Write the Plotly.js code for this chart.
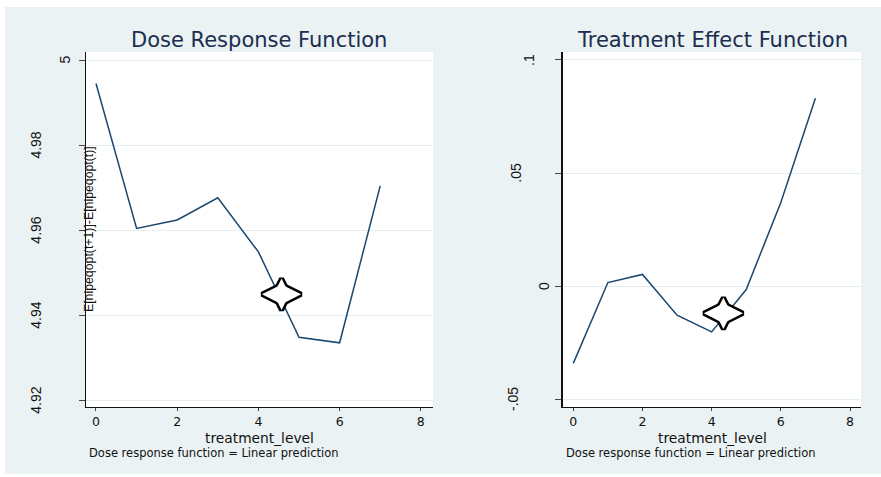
<!DOCTYPE html>
<html>
<head>
<meta charset="utf-8">
<script src="https://cdn.plot.ly/plotly-3.0.1.min.js"></script>
<style>
  html, body { margin: 0; padding: 0; background: #ffffff; width: 881px; height: 477px; overflow: hidden; }
  #chart { position: absolute; left: 5px; top: 7px; width: 876px; height: 467px; }
</style>
</head>
<body>
<div id="chart"></div>
<script>
// ---- data ----
const treatmentLevel = [0, 1, 2, 3, 4, 5, 6, 7];
const doseResponse = [4.9945, 4.9604, 4.9624, 4.9676, 4.9549, 4.9348, 4.9335, 4.9704];
const treatmentEffect = [-0.0341, 0.0016, 0.0052, -0.0128, -0.0202, -0.0015, 0.037, 0.0831];
const starDoseX = [4.57];
const starDoseY = [4.9449];
const starEffectX = [4.34];
const starEffectY = [-0.012];
const xTicks = [0, 2, 4, 6, 8];
const doseTicks = [4.92, 4.94, 4.96, 4.98, 5];
const doseTickLabels = ["4.92", "4.94", "4.96", "4.98", "5"];
const effectTicks = [-0.05, 0, 0.05, 0.1];
const effectTickLabels = ["-.05", "0", ".05", ".1"];
const titles = ["Dose Response Function", "Treatment Effect Function"];
const xTitle = "treatment_level";
const yTitleDose = "E[nipeqopt(t+1)]-E[nipeqopt(t)]";
const noteText = "Dose response function = Linear prediction";

// ---- layout helpers (page pixel -> paper fraction) ----
const W = 876, H = 467, OX = 5, OY = 7;
const px = x => (x - OX) / W;
const py = y => 1 - (y - OY) / H;

// label shifts (style): distance of rotated tick label centre from axis
const doseTickShift = [49.5, 49.5, 49.5, 49.5, 20.5];
const effectTickShift = [49, 19, 47, 33.7];

const lineColor = '#1a476f';
const titleColor = '#1c2d4f';
const bg = '#eaf2f3';
const wide = 'DejaVu Sans, sans-serif';
const arial = 'Liberation Sans, Arial, sans-serif';

// four-point star built from two crossed diamonds (outlined, then interiors filled)
function starTraces(xs, ys, xa, ya) {
  const layer = (symbol, size, lw) => ({
    x: xs, y: ys, type: 'scatter', mode: 'markers', xaxis: xa, yaxis: ya, hoverinfo: 'skip',
    marker: { symbol: symbol, size: size, color: 'white', line: { color: 'black', width: lw } }
  });
  return [
    layer('diamond-wide', 28, 5),
    layer('diamond-tall', 22.5, 5),
    layer('diamond-wide', 28, 0),
    layer('diamond-tall', 22.5, 0)
  ];
}

const traces = [
  { x: treatmentLevel, y: doseResponse, type: 'scatter', mode: 'lines',
    line: { color: lineColor, width: 1.5 }, xaxis: 'x', yaxis: 'y' },
  ...starTraces(starDoseX, starDoseY, 'x', 'y'),
  { x: treatmentLevel, y: treatmentEffect, type: 'scatter', mode: 'lines',
    line: { color: lineColor, width: 1.5 }, xaxis: 'x2', yaxis: 'y2' },
  ...starTraces(starEffectX, starEffectY, 'x2', 'y2')
];

function xAxis(domain, range, anchor) {
  return {
    domain: domain, range: range, anchor: anchor,
    tickmode: 'array', tickvals: xTicks, ticktext: xTicks.map(String),
    ticks: 'outside', ticklen: 3, tickcolor: '#444', tickwidth: 1,
    tickfont: { family: wide, size: 12.5, color: '#111' },
    showgrid: false, zeroline: false,
    showline: true, linecolor: '#111', linewidth: 1.3
  };
}
function yAxis(domain, range, anchor, ticks) {
  return {
    domain: domain, range: range, anchor: anchor,
    tickmode: 'array', tickvals: ticks, showticklabels: false,
    ticks: 'outside', ticklen: 6, tickcolor: '#444', tickwidth: 1,
    showgrid: true, gridcolor: '#e4eef0', gridwidth: 1, zeroline: false,
    showline: true, linecolor: '#111', linewidth: 1.3
  };
}

const yDom = [py(407), py(52)];
const leftDom = [px(86), px(433)];
const rightDom = [px(562.7), px(861)];

const ann = (o) => Object.assign({ xref: 'paper', yref: 'paper', xanchor: 'center', yanchor: 'middle',
  showarrow: false, borderpad: 0 }, o);

const annotations = [];
// titles
annotations.push(ann({ text: titles[0], x: px(259.5), y: py(40.5), font: { family: wide, size: 21, color: titleColor } }));
annotations.push(ann({ text: titles[1], x: px(712.5), y: py(40.5), font: { family: wide, size: 21, color: titleColor } }));
// x titles
annotations.push(ann({ text: xTitle, x: px(259.5), y: py(437.5), font: { family: wide, size: 13.8, color: '#111' } }));
annotations.push(ann({ text: xTitle, x: px(712), y: py(437.5), font: { family: wide, size: 13.8, color: '#111' } }));
// notes
annotations.push(ann({ text: noteText, x: px(88), y: py(453), xanchor: 'left', font: { family: wide, size: 11.5, color: '#111' } }));
annotations.push(ann({ text: noteText, x: px(565), y: py(453), xanchor: 'left', font: { family: wide, size: 11.5, color: '#111' } }));
// y title (left)
annotations.push(ann({ text: yTitleDose, x: px(88.5), y: py(229.5), textangle: -90,
  font: { family: arial, size: 12.3, color: '#111' } }));
// y tick labels (rotated, Stata style)
doseTicks.forEach((v, i) => annotations.push(ann({ text: doseTickLabels[i], yref: 'y',
  x: leftDom[0], y: v, xshift: -doseTickShift[i], textangle: -90,
  font: { family: arial, size: 14, color: '#111' } })));
effectTicks.forEach((v, i) => annotations.push(ann({ text: effectTickLabels[i], yref: 'y2',
  x: rightDom[0], y: v, xshift: -effectTickShift[i], textangle: -90,
  font: { family: arial, size: 14, color: '#111' } })));

const layout = {
  width: W, height: H,
  margin: { l: 0, r: 0, t: 0, b: 0, pad: 0 },
  paper_bgcolor: bg, plot_bgcolor: '#ffffff',
  showlegend: false,
  xaxis: xAxis(leftDom, [-0.246, 8.3], 'y'),
  yaxis: yAxis(yDom, [4.9184, 5.0019], 'x', doseTicks),
  xaxis2: xAxis(rightDom, [-0.306, 8.318], 'y2'),
  yaxis2: yAxis(yDom, [-0.0534, 0.1035], 'x2', effectTicks),
  annotations: annotations
};

Plotly.newPlot('chart', traces, layout, { displayModeBar: false, staticPlot: true });
</script>
</body>
</html>
